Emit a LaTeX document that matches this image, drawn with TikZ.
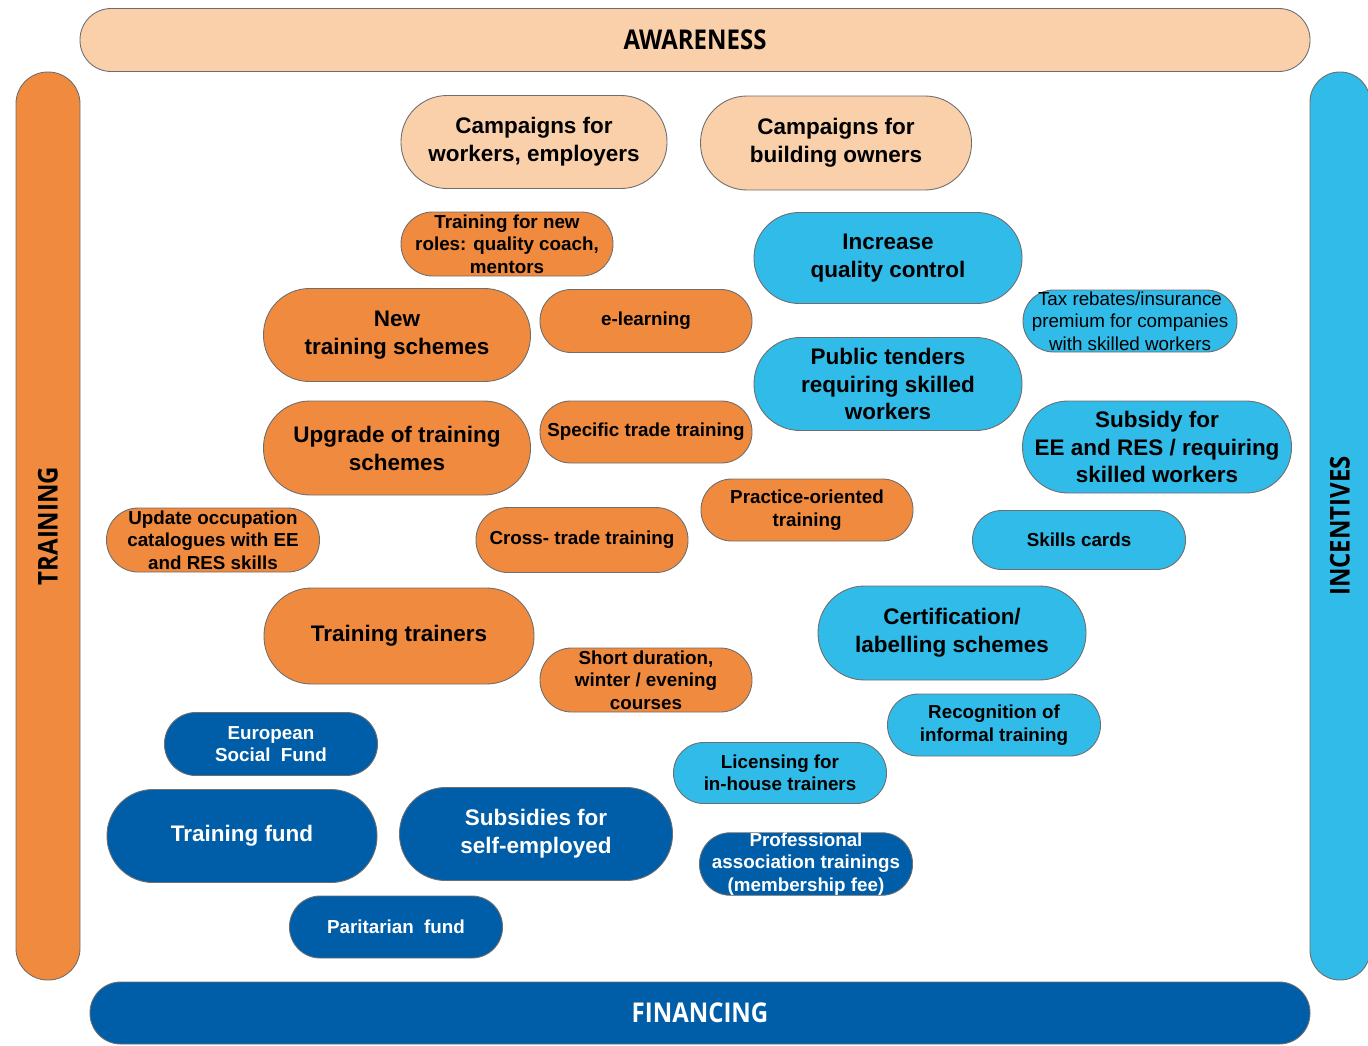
\documentclass[tikz,border=0pt]{standalone}
\usepackage{fontspec}
\setmainfont{Liberation Sans}
\newfontfamily\bandfont[FakeStretch=0.88]{Open Sans}
\usepackage{tikz}
\definecolor{ePeach}{HTML}{FAD0AA}
\definecolor{eOrange}{HTML}{F08A3F}
\definecolor{eSky}{HTML}{31BBE9}
\definecolor{eNavy}{HTML}{005DA8}
\definecolor{eEdge}{HTML}{6E6E6E}
\tikzset{pill/.style={rectangle, draw=eEdge, line width=0.5pt,
  align=center, inner xsep=0pt, inner ysep=0pt}}
\tikzset{sz/.style 2 args={minimum width=#1*0.02cm, minimum height=#2*0.02cm,
  rounded corners=#2*0.0099cm}}
\tikzset{big/.style={font=\fontsize{12.8}{15.9}\selectfont\bfseries}}
\tikzset{small/.style={font=\fontsize{10.7}{12.8}\selectfont\bfseries}}
\tikzset{plain/.style={font=\fontsize{10.7}{12.8}\selectfont}}
\tikzset{band/.style={pill, font=\bandfont\fontsize{15.5}{18}\selectfont\bfseries}}
\tikzset{aw/.style={pill, fill=ePeach}}
\tikzset{tr/.style={pill, fill=eOrange}}
\tikzset{inc/.style={pill, fill=eSky}}
\tikzset{fi/.style={pill, fill=eNavy, text=white}}

\begin{document}
\begin{tikzpicture}[x=0.02cm, y=-0.02cm]
        \useasboundingbox (0,0) rectangle (1368,1045);
        %% the four bands
        \node (awareness) at (695,40) [band, aw, sz={1230}{63}] {AWARENESS};
        \node (training) at (48,526) [band, tr, sz={908}{64}, rotate=90] {TRAINING};
        \node (incentives) at (1340,526) [band, inc, sz={908}{60}, rotate=90] {INCENTIVES};
        \node (financing) at (700,1013) [band, fi, sz={1220}{62}] {FINANCING};
        %% awareness
        \node (campw) at (534,142) [aw, big, sz={266}{93}] {Campaigns for\\workers, employers};
        \node (campb) at (836,143) [aw, big, sz={271}{94}] {Campaigns for\\building owners};
        %% training
        \node (roles) at (507,244) [tr, small, sz={212}{64}] {Training for new\\roles: quality coach,\\mentors};
        \node (newts) at (397,335) [tr, big, sz={267}{93}] {New\\training schemes};
        \node (elearn) at (646,321) [tr, small, sz={212}{63}] {e-learning};
        \node (upgrade) at (397,448) [tr, big, sz={267}{94}] {Upgrade of training\\schemes};
        \node (spec) at (646,432) [tr, small, sz={212}{62}] {Specific trade training};
        \node (practice) at (807,510) [tr, small, sz={212}{62}] {Practice-oriented\\training};
        \node (update) at (213,540) [tr, small, sz={213}{64}] {Update occupation\\catalogues with EE\\and RES skills};
        \node (cross) at (582,540) [tr, small, sz={212}{65}] {Cross- trade training};
        \node (trainers) at (399,636) [tr, big, sz={270}{96}] {Training trainers};
        \node (short) at (646,680) [tr, small, sz={212}{64}] {Short duration,\\winter / evening\\courses};
        %% incentives
        \node (quality) at (888,258) [inc, big, sz={268}{91}] {Increase\\quality control};
        \node (tax) at (1130,321) [inc, plain, sz={214}{62}] {Tax rebates/insurance\\premium for companies\\with skilled workers};
        \node (tenders) at (888,384) [inc, big, sz={268}{93}] {Public tenders\\requiring skilled\\workers};
        \node (subsidy) at (1157,447) [inc, big, sz={269}{92}] {Subsidy for\\EE and RES / requiring\\skilled workers};
        \node (cards) at (1079,540) [inc, small, sz={213}{59}] {Skills cards};
        \node (cert) at (952,633) [inc, big, sz={268}{94}] {Certification/\\labelling schemes};
        \node (recog) at (994,725) [inc, small, sz={213}{62}] {Recognition of\\informal training};
        \node (licence) at (780,773) [inc, small, sz={213}{61}] {Licensing for\\in-house trainers};
        %% financing
        \node (esf) at (271,744) [fi, small, sz={213}{63}] {European\\Social\ \ Fund};
        \node (tfund) at (242,836) [fi, big, sz={270}{93}] {Training fund};
        \node (selfemp) at (536,834) [fi, big, sz={273}{93}] {Subsidies for\\self-employed};
        \node (prof) at (806,864) [fi, small, sz={213}{62}] {Professional\\association trainings\\(membership fee)};
        \node (parit) at (396,927) [fi, small, sz={213}{62}] {Paritarian\ \ fund};
\end{tikzpicture}
\end{document}
